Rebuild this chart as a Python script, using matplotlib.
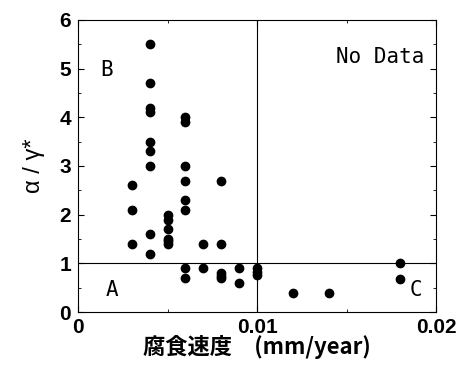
import matplotlib
matplotlib.use("Agg")
import matplotlib.pyplot as plt
from matplotlib.ticker import MultipleLocator

plt.rcParams['font.family'] = ['Liberation Sans', 'DejaVu Sans']

# corrosion rate (mm/year) and alpha/gamma*
rate = [0.003, 0.003, 0.003,
        0.004, 0.004, 0.004, 0.004, 0.004, 0.004, 0.004, 0.004, 0.004,
        0.005, 0.005, 0.005, 0.005, 0.005, 0.005,
        0.006, 0.006, 0.006, 0.006, 0.006, 0.006, 0.006, 0.006,
        0.007, 0.007,
        0.008, 0.008, 0.008, 0.008, 0.008,
        0.009, 0.009,
        0.010, 0.010, 0.010,
        0.012, 0.014, 0.018, 0.018]
ratio = [2.6, 2.1, 1.4,
         5.5, 4.7, 4.2, 4.1, 3.5, 3.3, 3.0, 1.6, 1.2,
         2.0, 1.9, 1.7, 1.5, 1.45, 1.4,
         4.0, 3.9, 3.0, 2.7, 2.3, 2.1, 0.9, 0.7,
         1.4, 0.9,
         2.7, 1.4, 0.8, 0.75, 0.7,
         0.9, 0.6,
         0.9, 0.82, 0.76,
         0.4, 0.4, 1.0, 0.68]

fig = plt.figure(figsize=(4.59, 3.68), dpi=100)
ax = fig.add_axes([0.170, 0.152, 0.780, 0.794])

ax.scatter(rate, ratio, s=36, color='black', zorder=3)
ax.axhline(1, color='black', lw=0.8)
ax.axvline(0.01, color='black', lw=0.8)

ax.set_xlim(0, 0.02)
ax.set_ylim(0, 6)
ax.xaxis.set_minor_locator(MultipleLocator(0.005))
ax.yaxis.set_major_locator(MultipleLocator(1))
ax.yaxis.set_minor_locator(MultipleLocator(0.5))
ax.set_xticks([0, 0.01, 0.02], ['0', '0.01', '0.02'])
ax.tick_params(which='both', direction='in', top=True, right=True)
ax.tick_params(which='major', length=4, labelsize=15)
ax.tick_params(axis='x', which='major', pad=4)
ax.tick_params(axis='y', which='major', pad=5)
ax.tick_params(which='minor', length=2)
for lab in ax.get_xticklabels() + ax.get_yticklabels():
    lab.set_fontweight('bold')

ax.set_ylabel('α / γ*', fontsize=17, labelpad=10)
ax.set_xlabel('腐食速度　(mm/year)', fontsize=16, fontweight='bold',
              family=['Noto Sans CJK JP', 'DejaVu Sans'], labelpad=-1)

lbl = dict(fontsize=15, family=['DejaVu Sans Mono', 'Liberation Mono'],
           ha='center', va='center')
ax.text(0.0016, 4.98, 'B', **lbl)
ax.text(0.0019, 0.45, 'A', **lbl)
ax.text(0.0189, 0.45, 'C', **lbl)
ax.text(0.0169, 5.24, 'No Data', **lbl)

fig.savefig('out.png', dpi=100)
